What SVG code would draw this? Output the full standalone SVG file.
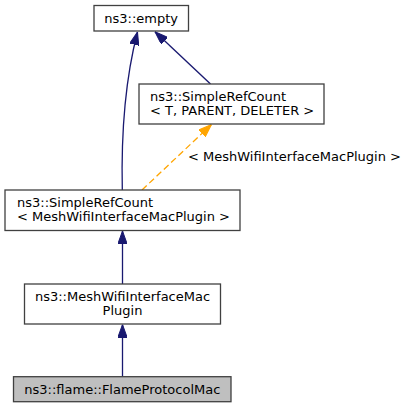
<svg xmlns="http://www.w3.org/2000/svg" width="405" height="408" viewBox="0 0 405 408">
<style>
  .box { fill: #ffffff; stroke: #404040; stroke-width: 1.3; }
  .cur { fill: #bfbfbf; stroke: #404040; stroke-width: 1.3; }
  text { font-family: "DejaVu Sans", "Liberation Sans", sans-serif; font-size: 13px; fill: #000000; }
  .mid { text-anchor: middle; }
  .inh { fill: none; stroke: #191970; stroke-width: 1.3; }
  .tpl { fill: none; stroke: #ffa500; stroke-width: 1.3; stroke-dasharray: 6.5,3.5; }
</style>
<defs>
  <marker id="ab" viewBox="0 0 13 9.4" refX="13" refY="4.7" markerWidth="13" markerHeight="9.4" markerUnits="userSpaceOnUse" orient="auto">
    <path d="M0,0 L13,4.7 L0,9.4 z" fill="#191970" stroke="#191970" stroke-width="1"/>
  </marker>
  <marker id="ao" viewBox="0 0 13 9.4" refX="13" refY="4.7" markerWidth="13" markerHeight="9.4" markerUnits="userSpaceOnUse" orient="auto">
    <path d="M0,0 L13,4.7 L0,9.4 z" fill="#ffa500" stroke="#ffa500" stroke-width="1"/>
  </marker>
</defs>
<g id="connectors">
  <path class="inh" d="M122.3,190 C121,130 125,80 137.5,32" marker-end="url(#ab)"/>
  <path class="inh" d="M210.5,84 L155,31.8" marker-end="url(#ab)"/>
  <path class="tpl" d="M142,190 L211.5,124.5" marker-end="url(#ao)"/>
  <text x="188" y="160.5">&lt; MeshWifiInterfaceMacPlugin &gt;</text>
  <path class="inh" d="M122.5,284 L122.5,231" marker-end="url(#ab)"/>
  <path class="inh" d="M122.5,376.7 L122.5,324.5" marker-end="url(#ab)"/>
</g>
<g id="node-empty">
  <rect class="box" x="94" y="5.5" width="94.5" height="25.5"/>
  <text class="mid" x="141.2" y="22.5">ns3::empty</text>
</g>
<g id="node-simplerefcount-t">
  <rect class="box" x="139" y="84" width="185" height="40"/>
  <text x="150" y="100.5">ns3::SimpleRefCount</text>
  <text x="150" y="114.5">&lt; T, PARENT, DELETER &gt;</text>
</g>
<g id="node-simplerefcount-mesh">
  <rect class="box" x="5" y="190" width="235" height="40.5"/>
  <text x="17" y="206.7">ns3::SimpleRefCount</text>
  <text x="17" y="220.5">&lt; MeshWifiInterfaceMacPlugin &gt;</text>
</g>
<g id="node-meshwifiinterfacemacplugin">
  <rect class="box" x="24.5" y="284" width="196" height="40"/>
  <text class="mid" x="122.5" y="300.7">ns3::MeshWifiInterfaceMac</text>
  <text class="mid" x="122.5" y="314.8">Plugin</text>
</g>
<g id="node-flameprotocolmac">
  <rect class="cur" x="13.5" y="376.7" width="217.5" height="25"/>
  <text class="mid" x="122.3" y="393.5">ns3::flame::FlameProtocolMac</text>
</g>
</svg>
